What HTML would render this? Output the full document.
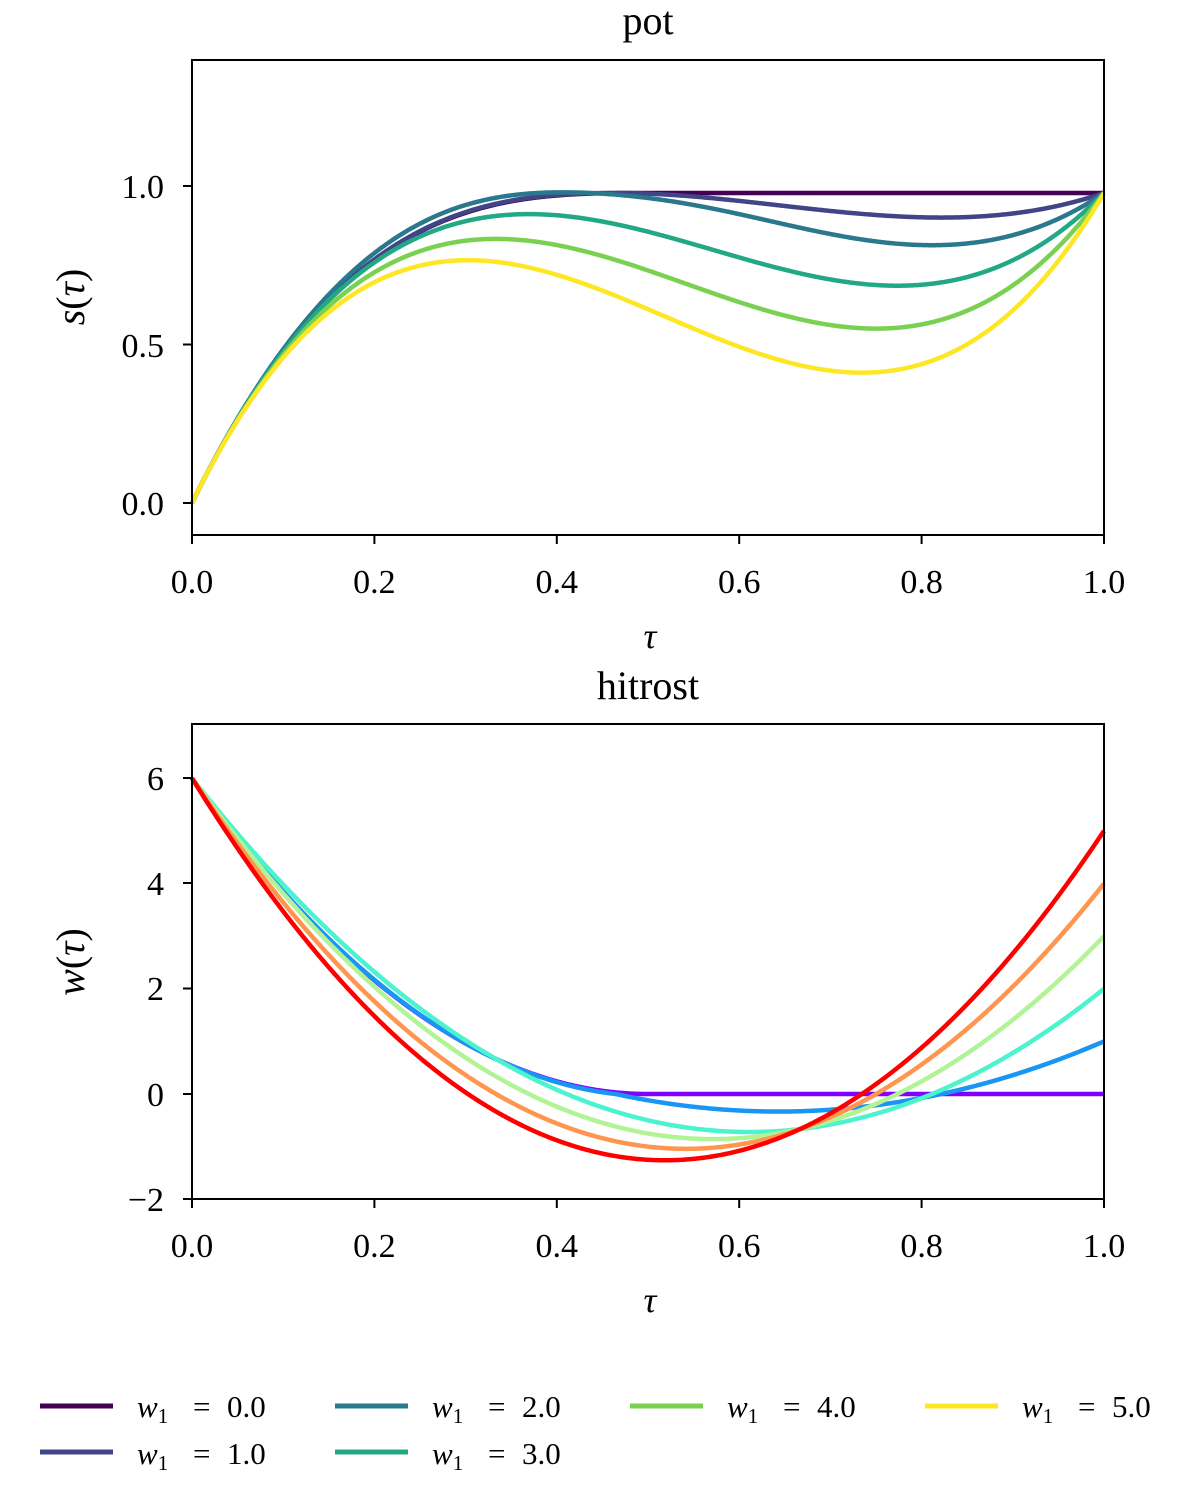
<!DOCTYPE html>
<html><head><meta charset="utf-8"><style>
html,body{margin:0;padding:0;background:#fff;}
svg{display:block;font-family:"Liberation Serif","DejaVu Serif",serif;}
</style></head><body>
<svg id="s" width="1200" height="1500" viewBox="0 0 1200 1500" xmlns="http://www.w3.org/2000/svg">
<rect width="1200" height="1500" fill="#fff"/>
<g id="curves" fill="none" stroke-width="4.5" stroke-linejoin="round" stroke-linecap="butt"></g>
<g fill="none" stroke="#000" stroke-width="2">
<rect x="192" y="60" width="912" height="475"/>
<rect x="192" y="724" width="912" height="475"/>
<path d="M192 535v9M374.4 535v9M556.8 535v9M739.2 535v9M921.6 535v9M1104 535v9M192 1199v9M374.4 1199v9M556.8 1199v9M739.2 1199v9M921.6 1199v9M1104 1199v9M192 186h-9M192 344.5h-9M192 503h-9M192 778h-9M192 883h-9M192 988.5h-9M192 1094h-9M192 1199h-9"/>
</g>
<g font-size="34" fill="#000" text-anchor="middle">
<text x="192" y="593">0.0</text><text x="374.4" y="593">0.2</text><text x="556.8" y="593">0.4</text><text x="739.2" y="593">0.6</text><text x="921.6" y="593">0.8</text><text x="1104" y="593">1.0</text>
<text x="192" y="1257">0.0</text><text x="374.4" y="1257">0.2</text><text x="556.8" y="1257">0.4</text><text x="739.2" y="1257">0.6</text><text x="921.6" y="1257">0.8</text><text x="1104" y="1257">1.0</text>
<text x="648" y="34" font-size="40">pot</text>
<text x="648" y="699" font-size="40">hitrost</text>
<text x="650" y="648" font-style="italic" font-size="36">τ</text>
<text x="650" y="1312" font-style="italic" font-size="36">τ</text>
</g>
<g font-size="34" fill="#000" text-anchor="end">
<text x="164" y="198">1.0</text><text x="164" y="357">0.5</text><text x="164" y="515">0.0</text>
<text x="164" y="790">6</text><text x="164" y="895">4</text><text x="164" y="1000">2</text><text x="164" y="1106">0</text><text x="164" y="1211">−2</text>
</g>
<text transform="translate(84,297) rotate(-90)" font-size="40" text-anchor="middle"><tspan font-style="italic">s</tspan>(<tspan font-style="italic">τ</tspan>)</text>
<text transform="translate(84,962) rotate(-90)" font-size="40" text-anchor="middle"><tspan font-style="italic">w</tspan>(<tspan font-style="italic">τ</tspan>)</text>
<g stroke-width="5">
<path d="M40 1406h73" stroke="#440154"/><path d="M40 1452h73" stroke="#414487"/>
<path d="M335 1406h73" stroke="#2a788e"/><path d="M335 1452h73" stroke="#22a884"/>
<path d="M630 1406h73" stroke="#7ad151"/><path d="M925 1406h73" stroke="#fde725"/>
</g>
<g font-size="31" fill="#000" id="leg"></g>
</svg>
<script>
(function(){
var NS='http://www.w3.org/2000/svg';
var leg=document.getElementById('leg');
var items=[[137,1417,'0.0'],[137,1464,'1.0'],[432,1417,'2.0'],[432,1464,'3.0'],[727,1417,'4.0'],[1022,1417,'5.0']];
items.forEach(function(it){
 var t=document.createElementNS(NS,'text');t.setAttribute('x',it[0]);t.setAttribute('y',it[1]);
 t.innerHTML='<tspan font-style="italic">w</tspan><tspan font-size="21" dy="6">1</tspan>';leg.appendChild(t);
 var e=document.createElementNS(NS,'text');e.setAttribute('x',it[0]+56);e.setAttribute('y',it[1]);e.textContent='=';leg.appendChild(e);
 var v=document.createElementNS(NS,'text');v.setAttribute('x',it[0]+90);v.setAttribute('y',it[1]);v.textContent=it[2];leg.appendChild(v);
});
var g=document.getElementById('curves');
function add(d,c){var p=document.createElementNS(NS,'path');p.setAttribute('d',d);p.setAttribute('stroke',c);g.appendChild(p);}
var X=function(t){return 192+912*t;};
var Ys=function(s){return 503-317*s;};
var Yw=function(w){return 1094-52.63*w;};
var T=0.4645,b1=6*(1-4*T)/(T*T),c1=(-6-b1*T)/(T*T),L=1-T;
var ws=[
 function(t){return t<0.5?6*Math.pow(1-2*t,2):0;},
 function(t){if(t<T)return 6+b1*t+c1*t*t;var u=t-T;return u*(3/(L*L)*u-2/L);}
];
for(var k=2;k<=5;k++){(function(w1){ws.push(function(t){return 6-(18+2*w1)*t+(3*w1+12)*t*t;});})(k);}
var vir=['#440154','#414487','#2a788e','#22a884','#7ad151','#fde725'];
var rb=['#8000ff','#1996f3','#4df3ce','#b2f396','#ff964f','#ff0000'];
var N=600;
for(var k=0;k<6;k++){
 var w=ws[k],s=0,prev=w(0),dS='M'+X(0)+' '+Ys(0),dW='M'+X(0)+' '+Yw(prev).toFixed(2);
 for(var i=1;i<=N;i++){var t=i/N,cur=w(t);s+=(prev+cur)/2/N;prev=cur;
  var sv=0.978*s; if(k==2) sv-=0.022*Math.exp(-Math.pow((t-0.42)/0.14,2));
  dS+='L'+X(t).toFixed(2)+' '+Ys(sv).toFixed(2);
  dW+='L'+X(t).toFixed(2)+' '+Yw(cur).toFixed(2);}
 add(dS,vir[k]);
 add(dW,rb[k]);
}
})();
</script>
</body></html>
